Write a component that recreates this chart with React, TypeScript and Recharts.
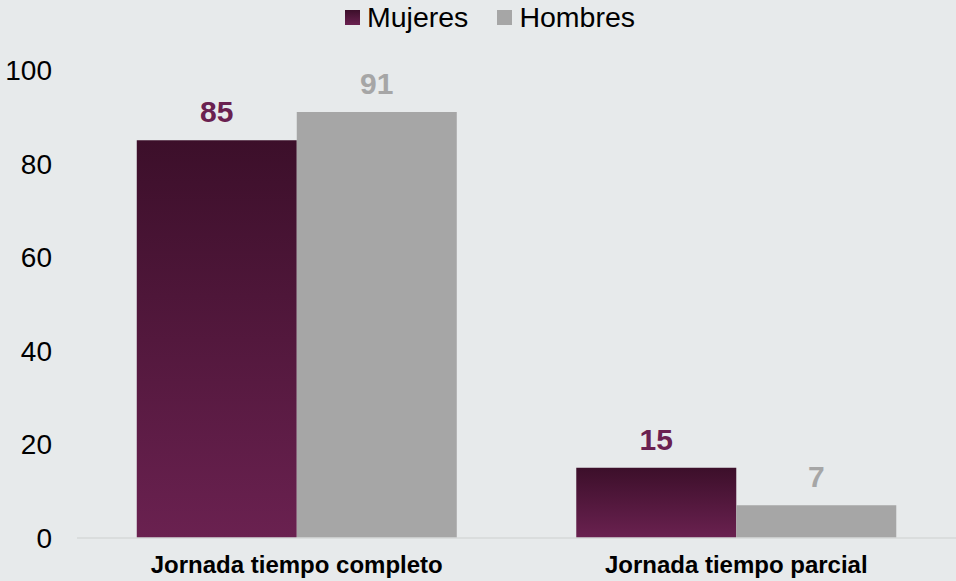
import React from "react";
import { BarChart, Bar, XAxis, YAxis, Legend, LabelList } from "recharts";

const categories = ["Jornada tiempo completo", "Jornada tiempo parcial"];
const mujeres = [85, 15];
const hombres = [91, 7];
const yTicks = [0, 20, 40, 60, 80, 100];

const data = categories.map((c, i) => ({ name: c, Mujeres: mujeres[i], Hombres: hombres[i] }));

const FONT = "'Liberation Sans', Arial, sans-serif";

const LegendContent = () => (
  <div style={{ display: "flex", justifyContent: "center", alignItems: "center", fontFamily: FONT, fontSize: 28.5, color: "#000", lineHeight: "34px", paddingLeft: 24 }}>
    <span style={{ display: "inline-block", width: 15, height: 15, background: "linear-gradient(#3c0f2a, #6a2150)", marginRight: 7 }} />
    <span style={{ marginRight: 29 }}>Mujeres</span>
    <span style={{ display: "inline-block", width: 15, height: 15, background: "#a6a6a6", marginRight: 7 }} />
    <span>Hombres</span>
  </div>
);

export default function App() {
  return (
    <div style={{ position: "absolute", left: 0, top: 0, width: 956, height: 581, background: "#e7eaeb" }}>
      <BarChart width={956} height={581} data={data} margin={{ top: 36, right: 0, bottom: 0, left: 0 }} barCategoryGap="13.6%" barGap={0}>
        <defs>
          <linearGradient id="gMuj" x1="0" y1="0" x2="0" y2="1">
            <stop offset="0%" stopColor="#3c0f2a" />
            <stop offset="100%" stopColor="#6a2150" />
          </linearGradient>
        </defs>
        <Legend verticalAlign="top" align="center" content={<LegendContent />} wrapperStyle={{ top: 0, left: 0, width: 956 }} />
        <XAxis dataKey="name" axisLine={{ stroke: "#d6d8d9", strokeWidth: 1.5 }} tickLine={false} height={43} tickMargin={12}
          tick={{ fontFamily: FONT, fontSize: 24, fontWeight: 700, fill: "#000" }} interval={0} />
        <YAxis domain={[0, 100]} ticks={yTicks} axisLine={false} tickLine={false} width={77} tickMargin={19}
          tick={{ fontFamily: FONT, fontSize: 28, fill: "#000" }} />
        <Bar dataKey="Mujeres" fill="url(#gMuj)" isAnimationActive={false}>
          <LabelList dataKey="Mujeres" position="top" offset={18} style={{ fontFamily: FONT, fontSize: 30, fontWeight: 700, fill: "#6a2150" }} />
        </Bar>
        <Bar dataKey="Hombres" fill="#a6a6a6" isAnimationActive={false}>
          <LabelList dataKey="Hombres" position="top" offset={18} style={{ fontFamily: FONT, fontSize: 30, fontWeight: 700, fill: "#a6a6a6" }} />
        </Bar>
      </BarChart>
    </div>
  );
}
